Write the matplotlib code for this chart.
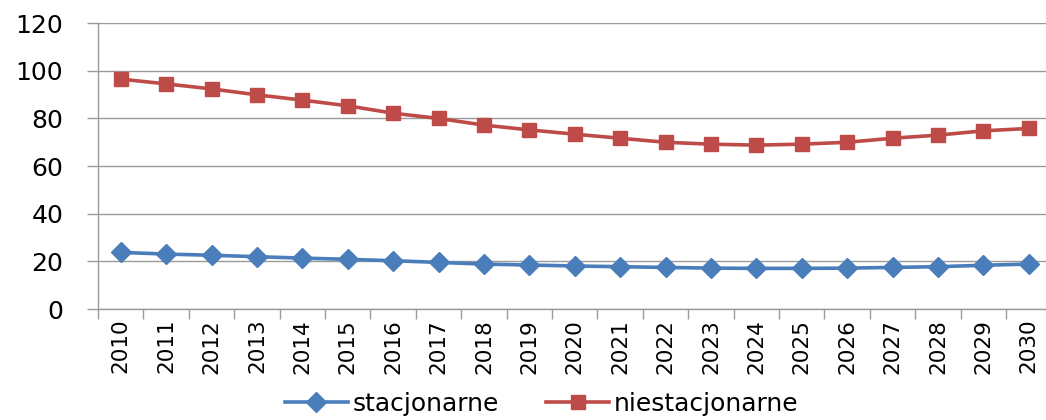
import numpy as np
import matplotlib
matplotlib.use('Agg')
import matplotlib.pyplot as plt
from matplotlib.ticker import FixedLocator

# ── Data ───────────────────────────────────────────────────────────────────────
years = [str(y) for y in range(2010, 2031)]
stacjonarne = [23.8, 23.1, 22.6, 22.0, 21.4, 20.9, 20.3, 19.6, 18.9, 18.5, 18.1,
               17.8, 17.5, 17.2, 17.1, 17.1, 17.2, 17.5, 17.8, 18.4, 18.9]
niestacjonarne = [96.5, 94.5, 92.4, 89.9, 87.7, 85.3, 82.2, 80.0, 77.2, 75.2, 73.4,
                  71.7, 70.0, 69.2, 68.8, 69.2, 70.0, 71.7, 73.0, 74.8, 75.8]
y_ticks = [0, 20, 40, 60, 80, 100, 120]

BLUE = '#4A7EBB'
RED = '#BE4B48'
GRID = '#9a9a9a'

fig = plt.figure(figsize=(10.46, 4.2), dpi=100)
ax = fig.add_axes([0.0937, 0.264, 0.9115, 0.681])

x = np.arange(len(years))
ax.plot(x, stacjonarne, color=BLUE, lw=2.6, marker='D', markersize=10.5,
        markeredgecolor=BLUE, label='stacjonarne', zorder=3)
ax.plot(x, niestacjonarne, color=RED, lw=2.6, marker='s', markersize=10.5,
        markeredgecolor=RED, label='niestacjonarne', zorder=3)

ax.set_ylim(0, 120)
ax.set_xlim(-0.5, len(years) - 0.5)
ax.set_yticks(y_ticks)
ax.set_yticklabels([str(v) for v in y_ticks], fontsize=18)
ax.yaxis.grid(True, color=GRID, lw=1)
ax.set_axisbelow(True)

ax.set_xticks(x)
ax.set_xticklabels(years, rotation=90, fontsize=15.5)
ax.xaxis.set_minor_locator(FixedLocator(np.arange(-0.5, len(years), 1.0)))
ax.tick_params(axis='x', which='major', length=0, pad=7)
ax.tick_params(axis='x', which='minor', length=7, color=GRID, width=1)
ax.tick_params(axis='y', length=8, color=GRID, width=1, pad=17)

for s in ['top', 'right']:
    ax.spines[s].set_visible(False)
for s in ['left', 'bottom']:
    ax.spines[s].set_color(GRID)
    ax.spines[s].set_linewidth(1)

fig.legend(loc='center', bbox_to_anchor=(0.518, 0.038), ncol=2, frameon=False,
           fontsize=18, handlelength=2.5, handletextpad=0.2, columnspacing=1.9,
           borderaxespad=0)

fig.savefig('out.png', dpi=100)
